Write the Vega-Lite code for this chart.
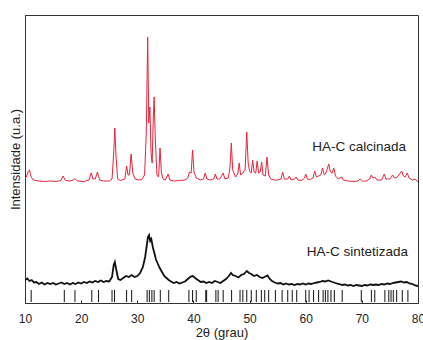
{
  "$schema": "https://vega.github.io/schema/vega-lite/v6.json",
  "width": 393,
  "height": 288,
  "autosize": {"type": "none"},
  "padding": {"left": 25, "top": 15, "right": 5, "bottom": 37},
  "background": "white",
  "config": {
    "font": "Liberation Sans",
    "view": {"stroke": "#333", "strokeWidth": 1},
    "axis": {"grid": false, "domainColor": "#333", "labelColor": "#222", "titleColor": "#222", "labelFont": "Liberation Sans", "titleFont": "Liberation Sans", "titleFontWeight": "normal", "labelFontSize": 12, "titleFontSize": 13}
  },
  "datasets": {
    "calcinada": [
      {"t":10.0,"i":124},{"t":10.3,"i":127},{"t":10.6,"i":132},{"t":10.8,"i":133},{"t":11.1,"i":126},{"t":11.5,"i":123},{"t":12.5,"i":122},{"t":13.5,"i":121.5},{"t":14.5,"i":122},{"t":15.5,"i":121.5},{"t":16.4,"i":122.5},{"t":16.8,"i":127},{"t":17.2,"i":122.5},{"t":18.0,"i":122},{"t":18.6,"i":123},{"t":18.9,"i":124.5},{"t":19.3,"i":122},{"t":20.5,"i":121.5},{"t":21.4,"i":123},{"t":21.8,"i":130},{"t":22.1,"i":124},{"t":22.5,"i":124},{"t":22.9,"i":131},{"t":23.3,"i":123},{"t":24.0,"i":122},{"t":25.0,"i":122},{"t":25.5,"i":124},{"t":25.8,"i":150},{"t":26.0,"i":175},{"t":26.2,"i":148},{"t":26.5,"i":124},{"t":27.0,"i":122.5},{"t":27.8,"i":124},{"t":28.1,"i":137},{"t":28.35,"i":128},{"t":28.6,"i":128},{"t":28.9,"i":149},{"t":29.2,"i":130},{"t":29.6,"i":124},{"t":30.2,"i":123},{"t":30.8,"i":123.5},{"t":31.3,"i":128},{"t":31.6,"i":170},{"t":31.85,"i":266},{"t":32.05,"i":180},{"t":32.25,"i":196},{"t":32.45,"i":150},{"t":32.65,"i":140},{"t":32.85,"i":185},{"t":33.0,"i":206},{"t":33.2,"i":165},{"t":33.5,"i":128},{"t":33.8,"i":126},{"t":34.05,"i":155},{"t":34.3,"i":130},{"t":34.6,"i":124},{"t":35.0,"i":123},{"t":35.5,"i":129},{"t":35.8,"i":123},{"t":36.5,"i":122},{"t":37.5,"i":122.5},{"t":38.5,"i":123},{"t":39.0,"i":125},{"t":39.3,"i":131},{"t":39.6,"i":130},{"t":39.85,"i":153},{"t":40.1,"i":131},{"t":40.5,"i":125},{"t":41.2,"i":123},{"t":41.8,"i":124},{"t":42.1,"i":130},{"t":42.4,"i":124},{"t":43.0,"i":123},{"t":43.6,"i":124},{"t":43.9,"i":129},{"t":44.2,"i":124},{"t":44.7,"i":124},{"t":45.3,"i":130},{"t":45.6,"i":124},{"t":46.2,"i":125},{"t":46.5,"i":135},{"t":46.75,"i":160},{"t":47.0,"i":133},{"t":47.5,"i":126},{"t":47.9,"i":129},{"t":48.15,"i":140},{"t":48.4,"i":128},{"t":48.8,"i":130},{"t":49.2,"i":133},{"t":49.5,"i":171},{"t":49.75,"i":140},{"t":50.0,"i":132},{"t":50.3,"i":130},{"t":50.55,"i":143},{"t":50.8,"i":131},{"t":51.1,"i":130},{"t":51.35,"i":142},{"t":51.6,"i":130},{"t":51.9,"i":131},{"t":52.15,"i":141},{"t":52.4,"i":128},{"t":52.8,"i":127},{"t":53.1,"i":146},{"t":53.4,"i":128},{"t":53.8,"i":124},{"t":54.4,"i":123},{"t":55.0,"i":123},{"t":55.6,"i":124},{"t":55.9,"i":131},{"t":56.2,"i":124},{"t":56.8,"i":124},{"t":57.1,"i":127},{"t":57.4,"i":123},{"t":58.0,"i":124},{"t":58.3,"i":126},{"t":58.6,"i":123},{"t":59.3,"i":122.5},{"t":59.8,"i":125},{"t":60.0,"i":129},{"t":60.3,"i":124},{"t":60.8,"i":123.5},{"t":61.3,"i":125},{"t":61.6,"i":132},{"t":61.9,"i":126},{"t":62.3,"i":127},{"t":62.7,"i":128},{"t":63.0,"i":135},{"t":63.3,"i":128},{"t":63.6,"i":130},{"t":64.1,"i":139},{"t":64.4,"i":131},{"t":64.7,"i":130},{"t":65.0,"i":135},{"t":65.3,"i":127},{"t":65.8,"i":124},{"t":66.4,"i":126},{"t":66.7,"i":123},{"t":67.5,"i":122},{"t":68.5,"i":121.5},{"t":69.3,"i":122},{"t":69.7,"i":124},{"t":70.1,"i":122},{"t":70.8,"i":122},{"t":71.4,"i":124},{"t":71.7,"i":128},{"t":72.0,"i":125},{"t":72.3,"i":126},{"t":72.7,"i":123},{"t":73.5,"i":123},{"t":74.0,"i":129},{"t":74.3,"i":124},{"t":75.0,"i":124},{"t":75.5,"i":128},{"t":75.8,"i":125},{"t":76.3,"i":126},{"t":76.6,"i":128},{"t":77.1,"i":132},{"t":77.4,"i":127},{"t":77.7,"i":126},{"t":78.1,"i":130},{"t":78.4,"i":125},{"t":79.0,"i":123},{"t":79.5,"i":124},{"t":80.0,"i":121}
    ],
    "sintetizada": [
      {"t":10.0,"i":23},{"t":10.4,"i":24.5},{"t":10.8,"i":22},{"t":11.2,"i":23},{"t":11.6,"i":20.5},{"t":12.0,"i":21},{"t":12.5,"i":19},{"t":13.0,"i":20.5},{"t":13.5,"i":18.5},{"t":14.0,"i":20},{"t":14.5,"i":19},{"t":15.0,"i":20},{"t":15.5,"i":18.5},{"t":16.0,"i":19.5},{"t":16.5,"i":20.5},{"t":17.0,"i":19},{"t":17.5,"i":20},{"t":18.0,"i":18.5},{"t":18.5,"i":20},{"t":19.0,"i":19},{"t":19.5,"i":20.5},{"t":20.0,"i":19.5},{"t":20.5,"i":21},{"t":21.0,"i":20},{"t":21.5,"i":21.5},{"t":22.0,"i":20.5},{"t":22.5,"i":22},{"t":23.0,"i":21},{"t":23.5,"i":22.5},{"t":24.0,"i":21},{"t":24.5,"i":22},{"t":25.0,"i":21.5},{"t":25.5,"i":26},{"t":25.8,"i":38},{"t":26.0,"i":41},{"t":26.2,"i":35},{"t":26.6,"i":24},{"t":27.0,"i":23},{"t":27.5,"i":25},{"t":28.0,"i":27},{"t":28.5,"i":26},{"t":29.0,"i":28},{"t":29.5,"i":26},{"t":30.0,"i":27},{"t":30.5,"i":30},{"t":31.0,"i":36},{"t":31.4,"i":46},{"t":31.7,"i":58},{"t":31.9,"i":66},{"t":32.1,"i":68},{"t":32.3,"i":62},{"t":32.5,"i":64},{"t":32.8,"i":55},{"t":33.0,"i":51},{"t":33.3,"i":44},{"t":33.6,"i":40},{"t":34.0,"i":35},{"t":34.4,"i":31},{"t":34.8,"i":27},{"t":35.2,"i":25},{"t":35.6,"i":23},{"t":36.0,"i":21.5},{"t":36.5,"i":20},{"t":37.0,"i":21},{"t":37.5,"i":19.5},{"t":38.0,"i":20.5},{"t":38.5,"i":21.5},{"t":39.0,"i":24},{"t":39.5,"i":26.5},{"t":39.9,"i":27},{"t":40.3,"i":25},{"t":40.8,"i":23},{"t":41.3,"i":21},{"t":41.8,"i":21.5},{"t":42.3,"i":20},{"t":42.8,"i":21},{"t":43.3,"i":20},{"t":43.8,"i":22},{"t":44.3,"i":21},{"t":44.8,"i":20},{"t":45.3,"i":22},{"t":45.8,"i":24},{"t":46.3,"i":27},{"t":46.7,"i":30},{"t":47.0,"i":28},{"t":47.5,"i":27},{"t":48.0,"i":25.5},{"t":48.5,"i":28},{"t":49.0,"i":29},{"t":49.5,"i":32},{"t":49.9,"i":30},{"t":50.3,"i":29},{"t":50.8,"i":27},{"t":51.3,"i":28},{"t":51.8,"i":26},{"t":52.3,"i":25},{"t":52.8,"i":26.5},{"t":53.2,"i":27.5},{"t":53.6,"i":24},{"t":54.0,"i":22},{"t":54.5,"i":20.5},{"t":55.0,"i":19.5},{"t":55.5,"i":20},{"t":56.0,"i":18.5},{"t":56.5,"i":19.5},{"t":57.0,"i":18.5},{"t":57.5,"i":19},{"t":58.0,"i":18},{"t":58.5,"i":19},{"t":59.0,"i":18.5},{"t":59.5,"i":19.5},{"t":60.0,"i":18.5},{"t":60.5,"i":19.5},{"t":61.0,"i":19},{"t":61.5,"i":20},{"t":62.0,"i":20.5},{"t":62.5,"i":21},{"t":63.0,"i":22},{"t":63.5,"i":21.5},{"t":64.0,"i":22.5},{"t":64.5,"i":21.5},{"t":65.0,"i":20.5},{"t":65.5,"i":19.5},{"t":66.0,"i":19},{"t":66.5,"i":18},{"t":67.0,"i":18.5},{"t":67.5,"i":17.5},{"t":68.0,"i":18},{"t":68.5,"i":17},{"t":69.0,"i":18},{"t":69.5,"i":17.5},{"t":70.0,"i":17},{"t":70.5,"i":18},{"t":71.0,"i":17.5},{"t":71.5,"i":18.5},{"t":72.0,"i":18},{"t":72.5,"i":18.5},{"t":73.0,"i":18},{"t":73.5,"i":19},{"t":74.0,"i":18.5},{"t":74.5,"i":19.5},{"t":75.0,"i":19},{"t":75.5,"i":20},{"t":76.0,"i":20.5},{"t":76.5,"i":21},{"t":77.0,"i":21.5},{"t":77.5,"i":20.5},{"t":78.0,"i":21},{"t":78.5,"i":19.5},{"t":79.0,"i":19},{"t":79.5,"i":17.5},{"t":80.0,"i":17}
    ],
    "referencia": [
      {"t":11.1},{"t":17.0},{"t":18.9},{"t":21.9},{"t":23.1},{"t":25.5},{"t":25.95},{"t":28.1},{"t":29.0},{"t":31.75},{"t":32.15},{"t":32.6},{"t":33.0},{"t":34.1},{"t":35.6},{"t":39.2},{"t":39.85},{"t":40.5},{"t":42.2},{"t":42.35},{"t":44.0},{"t":44.4},{"t":45.3},{"t":46.8},{"t":48.3},{"t":48.8},{"t":49.5},{"t":50.3},{"t":51.2},{"t":52.1},{"t":52.7},{"t":53.4},{"t":54.6},{"t":55.8},{"t":56.8},{"t":57.6},{"t":58.4},{"t":60.0},{"t":60.6},{"t":61.4},{"t":62.3},{"t":63.1},{"t":63.5},{"t":63.95},{"t":64.5},{"t":65.1},{"t":66.5},{"t":69.9},{"t":71.7},{"t":72.3},{"t":74.1},{"t":74.8},{"t":75.2},{"t":75.6},{"t":76.2},{"t":77.2},{"t":78.2}
    ]
  },
  "layer": [
    {
      "data": {"name": "calcinada"},
      "mark": {"type": "line", "color": "#e8243c", "strokeWidth": 1, "clip": true},
      "encoding": {
        "x": {"field": "t", "type": "quantitative", "scale": {"domain": [10, 80], "nice": false},
          "axis": {"title": "2θ (grau)", "values": [10,15,20,25,30,35,40,45,50,55,60,65,70,75,80], "labelExpr": "datum.value % 10 === 0 ? datum.label : ''", "tickSize": -3, "tickColor": "#333", "labelPadding": 13, "titlePadding": 2, "labelFlush": false, "labelOverlap": false}},
        "y": {"field": "i", "type": "quantitative", "scale": {"domain": [0, 288], "nice": false},
          "axis": {"title": "Intensidade (u.a.)", "labels": false, "ticks": false, "titlePadding": 3}}
      }
    },
    {
      "data": {"name": "sintetizada"},
      "mark": {"type": "line", "color": "#111", "strokeWidth": 1.8, "clip": true},
      "encoding": {
        "x": {"field": "t", "type": "quantitative"},
        "y": {"field": "i", "type": "quantitative"}
      }
    },
    {
      "data": {"name": "referencia"},
      "mark": {"type": "rule", "color": "#111", "strokeWidth": 1},
      "encoding": {
        "x": {"field": "t", "type": "quantitative"},
        "y": {"datum": 1},
        "y2": {"datum": 13}
      }
    },
    {
      "data": {"values": [{}]},
      "mark": {"type": "text", "fontSize": 13.5, "color": "#222", "align": "center", "baseline": "middle", "font": "Liberation Sans"},
      "encoding": {
        "x": {"datum": 69.5},
        "y": {"datum": 156},
        "text": {"value": "HA-C calcinada"}
      }
    },
    {
      "data": {"values": [{}]},
      "mark": {"type": "text", "fontSize": 13.5, "color": "#222", "align": "center", "baseline": "middle", "font": "Liberation Sans"},
      "encoding": {
        "x": {"datum": 69.2},
        "y": {"datum": 51},
        "text": {"value": "HA-C sintetizada"}
      }
    }
  ]
}
